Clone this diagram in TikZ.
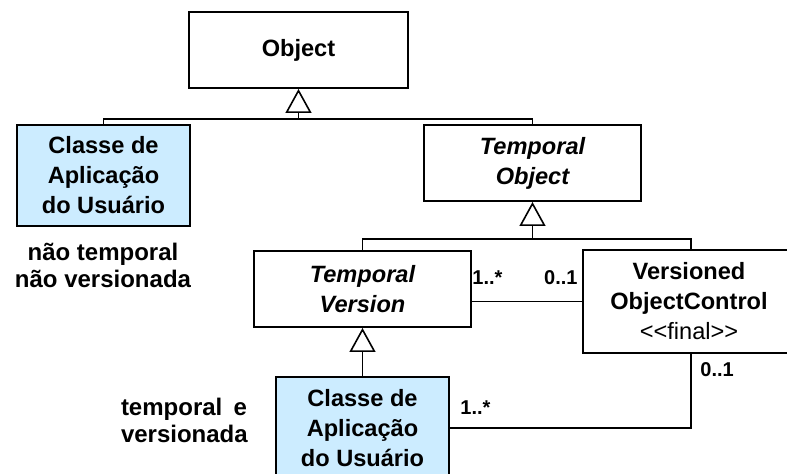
\documentclass[tikz,border=0pt]{standalone}
\usepackage{fontspec}
\setmainfont{Liberation Sans}
\usetikzlibrary{arrows.meta}
\definecolor{appblue}{HTML}{CCECFF}
\begin{document}
\begin{tikzpicture}[x=0.5pt,y=-0.5pt,
  cls/.style={draw, line width=1pt, align=center, font=\fontsize{11.8}{15}\selectfont\bfseries, inner sep=0pt},
  abs/.style={cls, font=\fontsize{11.8}{15}\selectfont\bfseries\itshape},
  app/.style={cls, fill=appblue},
  lbl/.style={font=\fontsize{10}{12}\selectfont\bfseries, inner sep=0pt},
  note/.style={font=\fontsize{12}{13.5}\selectfont\bfseries, inner sep=0pt},
  gen/.style={line width=0.8pt, -{Triangle[open, length=12pt, width=13pt]}},
  assoc/.style={line width=0.8pt}]
\useasboundingbox (0,0) rectangle (787,474);
\clip (0,0) rectangle (787,474);

\node[cls, minimum width=109.5pt, minimum height=38pt] (obj) at (298.5,50) {Object};
\node[app, minimum width=86.5pt, minimum height=50.5pt] (c1) at (103.5,175.5) {Classe de\\Aplicação\\do Usuário};
\node[abs, minimum width=108.5pt, minimum height=38pt] (to) at (532.5,163) {Temporal\\Object};
\node[abs, minimum width=108.5pt, minimum height=38pt] (tv) at (362.5,289) {Temporal\\Version};
\node[cls, draw=none, minimum width=130pt, minimum height=50.5pt, anchor=west] (voc) at (583,301.5) {};
\draw[line width=1pt] (voc.north east) -- (voc.north west) -- (voc.south west) -- (voc.south east);
\node[cls, draw=none, minimum height=50.5pt] (voct) at (689,301.5) {Versioned\\ObjectControl\\{\normalfont {<}{<}final{>}{>}}};
\node[app, minimum width=86.5pt, minimum height=51pt] (c2) at (362.5,428) {Classe de\\Aplicação\\do Usuário};

\path (obj.south) ++(0,30) coordinate (j1);
\path (to.south) ++(0,37) coordinate (j2);
\path (voct.north) ++(2,0) coordinate (vn);
\path (voct.south) ++(2,0) coordinate (vs);

\draw[assoc] (c1.north) |- (j1);
\draw[assoc] (to.north) |- (j1);
\draw[gen] (j1) -- (obj.south);

\draw[assoc] (tv.north) |- (j2);
\draw[assoc] (vn) |- (j2);
\draw[gen] (j2) -- (to.south);

\draw[gen] (c2.north) -- (tv.south);

\draw[assoc] (voc.west) -- (voc.west -| tv.east);
\draw[assoc] (c2.east) -| (vs);

\node[lbl, anchor=base west] (m1) at (472,285) {1..*};
\node[lbl, anchor=base east] (m2) at (578,285) {0..1};
\node[lbl, anchor=base west] (m3) at (700,377) {0..1};
\node[lbl, anchor=base west] (m4) at (460,415) {1..*};

\node[note, align=center] (n1) at (103,265) {não temporal\\não versionada};
\node[note, align=left, text width=63pt] (n2) at (184,420) {temporal\hfill e\\versionada};
\end{tikzpicture}
\end{document}
